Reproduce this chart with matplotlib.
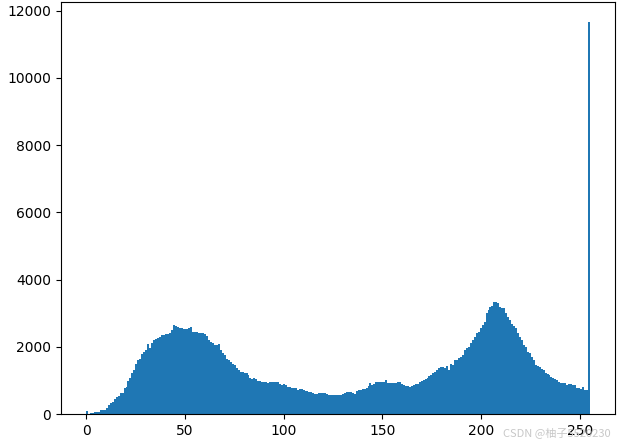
import numpy as np
import matplotlib
matplotlib.use("Agg")
import matplotlib.pyplot as plt

# grey levels 0..255 and their pixel counts
levels = list(range(256))
counts = [
    90, 10, 30, 40, 60, 70, 70, 120, 130, 130,
    190, 270, 320, 370, 440, 500, 545, 615, 620, 780,
    810, 980, 1060, 1210, 1310, 1490, 1600, 1650, 1770, 1850,
    1900, 2080, 1950, 2100, 2200, 2230, 2250, 2280, 2350, 2360,
    2380, 2390, 2400, 2500, 2650, 2610, 2580, 2570, 2560, 2530,
    2520, 2540, 2550, 2600, 2450, 2440, 2430, 2420, 2410, 2415,
    2390, 2310, 2200, 2150, 2100, 2060, 2050, 2080, 1900, 1820,
    1750, 1640, 1600, 1560, 1500, 1455, 1360, 1300, 1260, 1240,
    1230, 1220, 1160, 1080, 1050, 1060, 1030, 990, 970, 960,
    960, 950, 930, 960, 960, 950, 960, 960, 900, 860,
    890, 850, 810, 790, 780, 780, 760, 715, 730, 740,
    710, 690, 690, 665, 640, 615, 600, 585, 615, 615,
    615, 615, 600, 565, 565, 560, 565, 575, 575, 575,
    580, 635, 640, 645, 645, 620, 590, 690, 700, 715,
    740, 750, 770, 820, 910, 860, 900, 960, 960, 960,
    960, 950, 1010, 910, 920, 910, 920, 910, 940, 960,
    900, 860, 840, 830, 810, 820, 860, 880, 890, 960,
    980, 1010, 1040, 1060, 1140, 1160, 1210, 1260, 1310, 1355,
    1400, 1400, 1355, 1425, 1310, 1490, 1455, 1600, 1620, 1655,
    1700, 1750, 1900, 1960, 2000, 2100, 2200, 2300, 2400, 2450,
    2545, 2650, 2745, 3000, 3090, 3190, 3220, 3330, 3335, 3300,
    3190, 3160, 3140, 2990, 2880, 2790, 2690, 2620, 2545, 2400,
    2300, 2200, 2050, 1980, 1850, 1820, 1700, 1600, 1455, 1420,
    1385, 1340, 1310, 1210, 1200, 1160, 1100, 1060, 1030, 1000,
    960, 920, 910, 930, 860, 880, 890, 870, 860, 760,
    780, 740, 790, 715, 720, 11670,
]
watermark = "CSDN @柚子5520230"

fig = plt.figure(figsize=(6.19, 4.42), dpi=100)
ax = fig.add_axes([61 / 619, 28 / 442, 554 / 619, 412 / 442])
ax.hist(levels, bins=256, weights=counts, color="#1f77b4")

fig.text(0.986, 0.022, watermark, ha="right", va="center", fontsize=8,
         color="#c8c8c8", family=["Noto Sans CJK SC", "DejaVu Sans"])

fig.savefig("out.png", dpi=100)
